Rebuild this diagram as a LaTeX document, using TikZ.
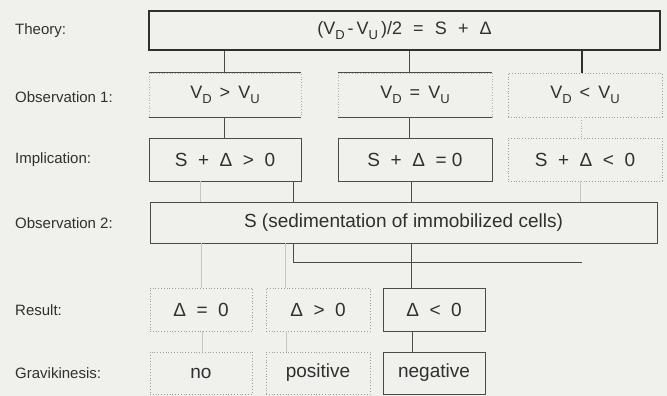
\documentclass[tikz,border=0pt]{standalone}
\usepackage{fontspec}
\setmainfont{Liberation Sans}
\definecolor{bgc}{RGB}{240,240,236}
\definecolor{txt}{RGB}{48,48,48}
\definecolor{linec}{RGB}{75,75,75}
\newcommand{\Vs}[1]{V\raisebox{-0.55ex}{\fontsize{13}{14}\selectfont #1}}
\newcommand{\gapsp}{\hspace{0.45em}}
\newcommand{\widesp}{\hspace{0.62em}}
\tikzset{
  ln/.style={draw=linec, line width=0.9pt},
  thk/.style={draw=txt, line width=2pt},
  faint/.style={draw=gray!45, line width=0.6pt},
  dotbox/.style={draw=gray!75, dotted, line width=0.8pt},
  fdot/.style={draw=gray!60, dotted, line width=0.7pt},
  box/.style={rectangle, inner sep=0pt, text=txt, font=\fontsize{19}{22}\selectfont},
  vbox/.style={box, font=\fontsize{18}{22}\selectfont},
  lab/.style={anchor=west, text=txt, font=\fontsize{15}{18}\selectfont, inner sep=0pt},
}
\begin{document}
\begin{tikzpicture}[x=1pt, y=-1pt]
\fill[bgc] (0,0) rectangle (667,396);
\useasboundingbox (0,0) rectangle (667,396);

% labels
\node[lab] (lt) at (15,31) {Theory:};
\node[lab] (lo1) at (15,97) {Observation 1:};
\node[lab] (li) at (15,160) {Implication:};
\node[lab] (lo2) at (15,223) {Observation 2:};
\node[lab] (lr) at (15,310) {Result:};
\node[lab] (lg) at (15,373) {Gravikinesis:};

% theory
\node[vbox, thk, minimum width=511pt, minimum height=39pt] (th) at (404.5,30.5)
  {(\Vs{D}\,-\,\Vs{U}\,)/2\widesp=\widesp S\widesp+\widesp Δ};

% observation 1
\node[vbox, fdot, minimum width=152pt, minimum height=44pt] (o1a) at (225,95) {\Vs{D}\gapsp>\gapsp\Vs{U}};
\node[vbox, fdot, minimum width=154pt, minimum height=44pt] (o1b) at (415,95) {\Vs{D}\gapsp=\gapsp\Vs{U}};
\node[vbox, dotbox, minimum width=154pt, minimum height=44pt] (o1c) at (585,95) {\Vs{D}\gapsp<\gapsp\Vs{U}};
\draw[ln] (o1a.north west) -- (o1a.north east);
\draw[ln] (o1a.south west) -- (o1a.south east);
\draw[ln] (o1b.north west) -- (o1b.north east);
\draw[ln] (o1b.south west) -- (o1b.south east);

% implication
\node[box, ln, minimum width=152pt, minimum height=43pt] (i1a) at (225,159.5) {S~~+~~Δ~~>~~0};
\node[box, ln, minimum width=154pt, minimum height=43pt] (i1b) at (415,159.5) {S~~+~~Δ~~=~0};
\node[box, dotbox, minimum width=154pt, minimum height=43pt] (i1c) at (585,159.5) {S~~+~~Δ~~<~~0};

% observation 2
\node[box, ln, minimum width=507pt, minimum height=41pt] (ob2) at (403.5,222.5) {S (sedimentation of immobilized cells)};

% result
\node[box, dotbox, minimum width=102pt, minimum height=43pt] (r1) at (201,309.5) {Δ~~=~~0};
\node[box, dotbox, minimum width=104pt, minimum height=43pt] (r2) at (318,309.5) {Δ~~>~~0};
\node[box, ln, minimum width=102pt, minimum height=43pt] (r3) at (434,309.5) {Δ~~<~~0};

% gravikinesis
\node[box, dotbox, minimum width=102pt, minimum height=42pt] (g1) at (201,373) {no};
\node[box, dotbox, minimum width=104pt, minimum height=42pt] (g2) at (318,373) {positive};
\node[box, ln, minimum width=102pt, minimum height=42pt] (g3) at (434,373) {negative};

% connectors theory -> obs1
\draw[ln] (224,0 |- th.south) -- (224,0 |- o1a.north);
\draw[ln] (409,0 |- th.south) -- (409,0 |- o1b.north);
\draw[thk] (582,0 |- th.south) -- (582,0 |- o1c.north);

% obs1 -> implication
\draw[ln] (224,0 |- o1a.south) -- (224,0 |- i1a.north);
\draw[ln] (409,0 |- o1b.south) -- (409,0 |- i1b.north);
\draw[fdot] (581,0 |- o1c.south) -- (581,0 |- i1c.north);

% implication -> obs2
\draw[ln] (293,0 |- i1a.south) -- (293,0 |- ob2.north);
\draw[ln] (411,0 |- i1b.south) -- (411,0 |- ob2.north);
\draw[faint] (200,0 |- i1a.south) -- (200,0 |- ob2.north);
\draw[faint] (580,0 |- i1c.south) -- (580,0 |- ob2.north);

% obs2 -> results
\coordinate (hr) at (582,262);
\draw[ln] (293,0 |- ob2.south) -- (293,262) -- (hr);
\draw[ln] (411,0 |- ob2.south) -- (411,0 |- r3.north);
\draw[faint] (201,0 |- ob2.south) -- (201,0 |- r1.north);
\draw[faint] (285,0 |- ob2.south) -- (285,0 |- r2.north);

% results -> gravikinesis
\draw[faint] (202,0 |- r1.south) -- (202,0 |- g1.north);
\draw[faint] (286,0 |- r2.south) -- (286,0 |- g2.north);
\draw[ln] (412,0 |- r3.south) -- (412,0 |- g3.north);
\end{tikzpicture}
\end{document}
